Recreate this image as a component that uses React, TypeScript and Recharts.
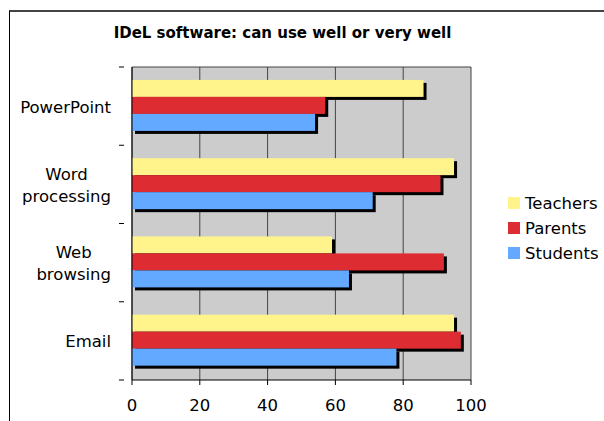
import React from 'react';
import { BarChart, Bar, XAxis, YAxis, CartesianGrid, Legend } from 'recharts';

const categories = ['PowerPoint', 'Word processing', 'Web browsing', 'Email'];
const teachers = [86, 95, 59, 95];
const parents = [57, 91, 92, 97];
const students = [54, 71, 64, 78];
const seriesNames = ['Teachers', 'Parents', 'Students'];
const xTicks = [0, 20, 40, 60, 80, 100];

const data = categories.map((name, i) => ({
  name,
  Teachers: teachers[i],
  Parents: parents[i],
  Students: students[i],
}));

const FONT = '"DejaVu Sans", Verdana, sans-serif';
const LABEL_SIZE = 16.5;

let ctx: CanvasRenderingContext2D | null = null;
const measure = (s: string) => {
  if (!ctx) ctx = document.createElement('canvas').getContext('2d');
  if (!ctx) return s.length * 9;
  ctx.font = `${LABEL_SIZE}px "DejaVu Sans"`;
  return ctx.measureText(s).width;
};

const ShadowBar = (props: any) => {
  const { x, y, width, height, fill } = props;
  if (!width || width <= 0) return null;
  return (
    <g>
      <rect x={x + 3} y={y + 3} width={width} height={height} fill="#000" />
      <rect x={x} y={y} width={width} height={height} fill={fill} />
    </g>
  );
};

// labels right-aligned as a block, lines centred; tick marks sit between categories
const CategoryTick = (props: any) => {
  const { x, y, payload, index } = props;
  const half = payload && payload.offset ? payload.offset : 39;
  const lines = String(payload.value).split(' ');
  const maxW = Math.max(...lines.map(measure));
  const cx = x - 13 - maxW / 2;
  const lh = 21.5;
  return (
    <g>
      <line x1={x - 5} x2={x} y1={y - half} y2={y - half} stroke="#000" />
      {index === categories.length - 1 && (
        <line x1={x - 5} x2={x} y1={y + half} y2={y + half} stroke="#000" />
      )}
      {lines.map((l, i) => (
        <text
          key={i}
          x={cx}
          y={y + 6.5 - ((lines.length - 1) * lh) / 2 + i * lh}
          textAnchor="middle"
          fontSize={LABEL_SIZE}
          fontFamily={FONT}
          fill="#000"
        >
          {l}
        </text>
      ))}
    </g>
  );
};

const LegendContent = (props: any) => {
  const items = [...(props.payload || [])].sort(
    (a: any, b: any) => seriesNames.indexOf(a.value) - seriesNames.indexOf(b.value)
  );
  return (
    <div style={{ fontFamily: FONT, fontSize: LABEL_SIZE }}>
      {items.map((p: any) => (
        <div key={p.value} style={{ display: 'flex', alignItems: 'center', height: 25 }}>
          <span style={{ width: 12, height: 12, background: p.color, marginRight: 5, display: 'inline-block' }} />
          <span style={{ color: '#000' }}>{p.value}</span>
        </div>
      ))}
    </div>
  );
};

export default function App() {
  return (
    <div style={{ position: 'fixed', left: 0, top: 0, width: 604, height: 421, background: '#fff', overflow: 'hidden' }}>
      <div
        style={{
          position: 'absolute',
          left: 9,
          top: 10,
          width: 700,
          height: 500,
          borderTop: '2px solid #444',
          borderLeft: '1px solid #000',
        }}
      />
      <div
        style={{
          position: 'absolute',
          left: 0,
          top: 23.8,
          width: 565,
          textAlign: 'center',
          fontFamily: FONT,
          fontWeight: 'bold',
          fontSize: 15,
          lineHeight: '18px',
          color: '#000',
        }}
      >
        IDeL software: can use well or very well
      </div>
      <div style={{ position: 'absolute', left: 0, top: 0 }}>
        <BarChart
          width={604}
          height={421}
          data={data}
          layout="vertical"
          margin={{ top: 67, right: 33, bottom: 11, left: 22 }}
          barCategoryGap="16.5%"
          barGap={0}
        >
          <CartesianGrid
            fill="#cccccc"
            stroke="#444"
            horizontalCoordinatesGenerator={({ offset }: any) => [offset.top]}
          />
          <XAxis
            type="number"
            domain={[0, 100]}
            ticks={xTicks}
            height={30}
            axisLine={{ stroke: '#000' }}
            tickLine={{ stroke: '#000' }}
            tickSize={5}
            tickMargin={14}
            tick={{ fill: '#000', fontSize: LABEL_SIZE, fontFamily: FONT }}
          />
          <YAxis
            type="category"
            dataKey="name"
            width={110}
            axisLine={{ stroke: '#000' }}
            tickLine={false}
            tick={<CategoryTick />}
          />
          <Legend
            layout="vertical"
            align="right"
            verticalAlign="middle"
            width={100}
            content={<LegendContent />}
            wrapperStyle={{ left: 508, top: 190.5, width: 100 }}
          />
          <Bar dataKey="Teachers" fill="#fff38c" shape={<ShadowBar />} isAnimationActive={false} />
          <Bar dataKey="Parents" fill="#dd2c32" shape={<ShadowBar />} isAnimationActive={false} />
          <Bar dataKey="Students" fill="#63a9ff" shape={<ShadowBar />} isAnimationActive={false} />
        </BarChart>
      </div>
    </div>
  );
}
